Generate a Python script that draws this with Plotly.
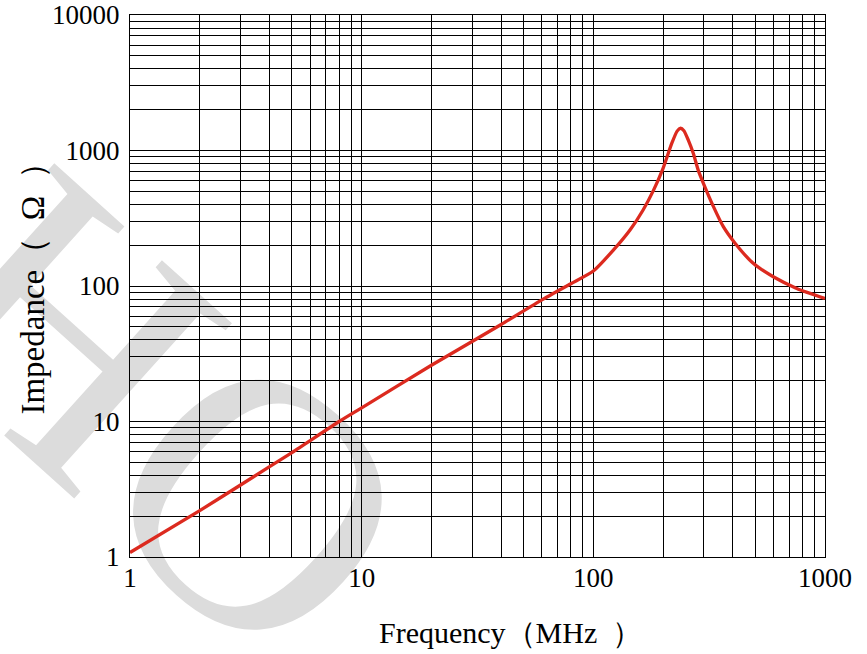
import plotly.graph_objects as go

# Data
freq_mhz = [1, 2, 3, 5, 8, 10, 20, 40, 60, 80, 100, 122, 144, 164, 182, 200,
            218, 230, 238, 246, 257, 270, 284, 298, 330, 364, 409, 490, 598,
            755, 1000]
impedance_ohm = [1.08, 2.2, 3.4, 5.9, 10.0, 12.6, 26, 52, 79, 104, 129, 184,
                 259, 364, 510, 738, 1127, 1390, 1460, 1400, 1193, 953, 710,
                 578, 385, 274, 207, 147, 117, 96, 81]

x_tick_vals = [1, 10, 100, 1000]
x_tick_text = ["1", "10", "100", "1000"]
y_tick_vals = [1, 10, 100, 1000, 10000]
y_tick_text = ["1", "10", "100", "1000", "10000"]

x_title = "Frequency（MHz\u2002）"
y_title = "Impedance（\u2002Ω\u2002）"
watermark_text = "HO"

serif = "Liberation Serif, Times New Roman, serif"


def minor_vals(decades):
    return [m * 10 ** d for d in range(decades) for m in range(2, 10)]


fig = go.Figure()
fig.add_trace(go.Scatter(
    x=freq_mhz, y=impedance_ohm, mode="lines",
    line=dict(color="#dc2a1f", width=3.3, shape="spline", smoothing=0.6),
    hoverinfo="skip", showlegend=False,
))

axis_common = dict(
    type="log", automargin=False,
    showgrid=True, gridcolor="#000000", gridwidth=1,
    showline=True, linecolor="#000000", linewidth=1.2, mirror=True,
    ticks="", ticklen=0, zeroline=False,
    tickfont=dict(family=serif, size=27, color="#000000"),
)

fig.update_xaxes(
    **axis_common,
    range=[0, 3],
    tickmode="array", tickvals=x_tick_vals, ticktext=x_tick_text,
    ticklabelstandoff=-4,
    minor=dict(tickmode="array", tickvals=minor_vals(3), showgrid=True,
               gridcolor="#000000", gridwidth=1, ticks=""),
)
fig.update_yaxes(
    **axis_common,
    range=[0, 4],
    tickmode="array", tickvals=y_tick_vals, ticktext=y_tick_text,
    ticklabelstandoff=4,
    minor=dict(tickmode="array", tickvals=minor_vals(4), showgrid=True,
               gridcolor="#000000", gridwidth=1, ticks=""),
)

# faint watermark behind the grid
fig.add_shape(
    type="rect", xref="paper", yref="paper",
    x0=0.08, x1=0.091, y0=0.31, y1=0.32, layer="below",
    line=dict(width=0), fillcolor="rgba(0,0,0,0)",
    label=dict(text=watermark_text, textangle=42, textposition="middle center",
               font=dict(family=serif, size=360, color="#dcdcdc")),
)

fig.add_annotation(
    text=x_title, xref="paper", yref="paper", x=0.547, y=-0.14,
    xanchor="center", yanchor="middle", showarrow=False,
    font=dict(family=serif, size=30, color="#000000"),
)
fig.add_annotation(
    text=y_title, xref="paper", yref="paper", x=-0.1396, y=0.51,
    xanchor="center", yanchor="middle", showarrow=False, textangle=-90,
    font=dict(family=serif, size=33, color="#000000"),
)

fig.update_layout(
    width=867, height=654,
    margin=dict(l=130, r=42, t=15, b=97, autoexpand=False),
    paper_bgcolor="#ffffff", plot_bgcolor="rgba(0,0,0,0)",
    showlegend=False,
)

fig.write_html("out.html", config={"displayModeBar": False},
               post_script="document.body.style.margin='0';")
